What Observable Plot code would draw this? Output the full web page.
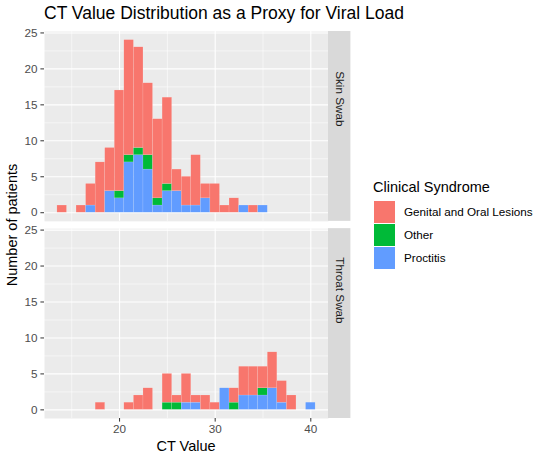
<!DOCTYPE html>
<html>
<head>
<meta charset="utf-8">
<script src="https://cdn.jsdelivr.net/npm/d3@7"></script>
<script src="https://cdn.jsdelivr.net/npm/@observablehq/plot@0.6"></script>
<style>
  body { margin: 0; background: #fff; font-family: "Liberation Sans", Arial, Helvetica, sans-serif; }
  #wrap { position: relative; width: 547px; height: 460px; overflow: hidden; background: #fff; }
  #wrap svg { position: absolute; left: 0; top: 0; }
  .abs { position: absolute; white-space: nowrap; color: #000; }
  #title { left: 44px; top: 5px; font-size: 17.5px; line-height: 17.5px; }
  #ytitle { left: 12px; top: 225px; font-size: 14.5px; line-height: 14.5px; transform: translate(-50%, -50%) rotate(-90deg); }
  #xtitle { left: 186px; top: 439px; font-size: 14.5px; line-height: 14.5px; transform: translateX(-50%); }
  #legtitle { left: 373px; top: 179.5px; font-size: 14.5px; line-height: 14.5px; }
  .key { position: absolute; left: 373.5px; width: 21.7px; height: 21.7px; }
  .keylab { position: absolute; left: 404px; font-size: 11.7px; line-height: 21.7px; color: #000; white-space: nowrap; }
</style>
</head>
<body>
<div id="wrap"></div>
<script>
// ---- data ----
const ctBins = [14, 15, 16, 17, 18, 19, 20, 21, 22, 23, 24, 25, 26, 27, 28, 29, 30, 31, 32, 33, 34, 35, 36, 37, 38, 39, 40];
const swabs = ["Skin Swab", "Throat Swab"];
const syndromes = ["Genital and Oral Lesions", "Other", "Proctitis"];
const syndromeColors = ["#F8766D", "#00BA38", "#619CFF"];

const skinGenital   = [1, 0, 1, 3, 7, 6, 14, 16, 14, 10, 11, 12, 3, 4, 7, 2, 4, 1, 2, 0, 1, 0, 0, 0, 0, 0, 0];
const skinOther     = [0, 0, 0, 0, 0, 0, 1, 1, 1, 2, 1, 1, 0, 0, 0, 0, 0, 0, 0, 0, 0, 0, 0, 0, 0, 0, 0];
const skinProctitis = [0, 0, 0, 1, 0, 3, 2, 7, 8, 6, 1, 3, 3, 1, 1, 2, 0, 0, 0, 1, 0, 1, 0, 0, 0, 0, 0];

const throatGenital   = [0, 0, 0, 0, 1, 0, 0, 1, 2, 3, 0, 4, 1, 4, 1, 2, 1, 0, 2, 4, 4, 3, 5, 3, 2, 0, 0];
const throatOther     = [0, 0, 0, 0, 0, 0, 0, 0, 0, 0, 0, 1, 1, 0, 0, 0, 0, 0, 1, 0, 0, 1, 0, 0, 0, 0, 0];
const throatProctitis = [0, 0, 0, 0, 0, 0, 0, 0, 0, 0, 0, 0, 0, 1, 1, 0, 0, 3, 0, 2, 2, 2, 3, 1, 0, 0, 1];

const xMajor = [20, 30, 40];
const xMinor = [15, 25, 35];
const yMajor = [0, 5, 10, 15, 20, 25];
const yMinor = [2.5, 7.5, 12.5, 17.5, 22.5];
const xDomain = [12.15, 41.85];
const yDomain = [-1.2, 25.2];

// ---- build stacked table ----
const counts = {
  "Skin Swab": {"Genital and Oral Lesions": skinGenital, "Other": skinOther, "Proctitis": skinProctitis},
  "Throat Swab": {"Genital and Oral Lesions": throatGenital, "Other": throatOther, "Proctitis": throatProctitis}
};
const stackOrder = ["Proctitis", "Other", "Genital and Oral Lesions"];
const bars = [];
for (const swab of swabs) {
  ctBins.forEach((bin, i) => {
    let base = 0;
    for (const s of stackOrder) {
      const n = counts[swab][s][i];
      if (n > 0) {
        bars.push({swab, syndrome: s, x1: bin - 0.5, x2: bin + 0.5, y1: base, y2: base + n});
        base += n;
      }
    }
  });
}

const W = 547, H = 460, mL = 44, mR = 219, mT = 31, mB = 42;
const panelW = W - mL - mR;

const chart = Plot.plot({
  width: W,
  height: H,
  marginTop: mT,
  marginBottom: mB,
  marginLeft: mL,
  marginRight: mR,
  style: {fontFamily: '"Liberation Sans", Arial, Helvetica, sans-serif', fontSize: "11.7px", background: "transparent", overflow: "visible"},
  x: {domain: xDomain},
  y: {domain: yDomain},
  fy: {domain: swabs, paddingInner: 0.037, paddingOuter: 0, axis: null, round: false},
  color: {domain: syndromes, range: syndromeColors},
  marks: [
    Plot.frame({fill: "#ebebeb"}),
    Plot.rect(swabs, {fy: d => d, fill: "#d9d9d9", insetLeft: panelW, insetRight: -22.4}),
    Plot.gridX(xMinor, {stroke: "white", strokeOpacity: 1, strokeWidth: 0.55}),
    Plot.gridY(yMinor, {stroke: "white", strokeOpacity: 1, strokeWidth: 0.55}),
    Plot.gridX(xMajor, {stroke: "white", strokeOpacity: 1, strokeWidth: 1.1}),
    Plot.gridY(yMajor, {stroke: "white", strokeOpacity: 1, strokeWidth: 1.1}),
    Plot.rect(bars, {x1: "x1", x2: "x2", y1: "y1", y2: "y2", fy: "swab", fill: "syndrome", stroke: "#ffffff", strokeOpacity: 0.3, strokeWidth: 0.4}),
    Plot.axisY(yMajor, {tickSize: 3.6, tickPadding: 3.5, stroke: "#333333", fill: "#4d4d4d", fontSize: 11.7, label: null}),
    Plot.axisX(xMajor, {tickSize: 3.6, tickPadding: 2.8, stroke: "#333333", fill: "#4d4d4d", fontSize: 11.7, label: null}),
    Plot.text(swabs, {fy: d => d, text: d => d, frameAnchor: "right", dx: 11.3, rotate: 90, fill: "#1a1a1a", fontSize: 11.7})
  ]
});

const wrap = document.getElementById("wrap");
wrap.appendChild(chart);

function addDiv(id, text) {
  const d = document.createElement("div");
  d.className = "abs";
  d.id = id;
  d.textContent = text;
  wrap.appendChild(d);
}
addDiv("title", "CT Value Distribution as a Proxy for Viral Load");
addDiv("ytitle", "Number of patients");
addDiv("xtitle", "CT Value");
addDiv("legtitle", "Clinical Syndrome");

syndromes.forEach((s, i) => {
  const top = 201 + i * 23;
  const k = document.createElement("div");
  k.className = "key";
  k.style.top = top + "px";
  k.style.background = syndromeColors[i];
  wrap.appendChild(k);
  const l = document.createElement("div");
  l.className = "keylab";
  l.style.top = top + "px";
  l.textContent = s;
  wrap.appendChild(l);
});
</script>
</body>
</html>
